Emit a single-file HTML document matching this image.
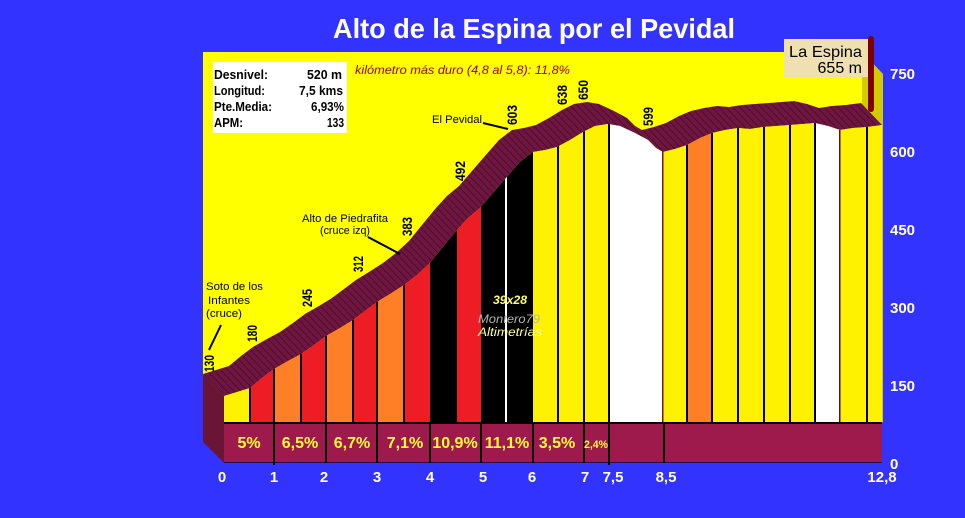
<!DOCTYPE html>
<html><head><meta charset="utf-8"><style>
html,body{margin:0;padding:0;background:#3333FF;}
svg{display:block;font-family:"Liberation Sans",sans-serif;}
</style></head><body>
<svg width="965" height="518" viewBox="0 0 965 518" xmlns="http://www.w3.org/2000/svg">
<defs>
<pattern id="h" patternUnits="userSpaceOnUse" width="7" height="40" patternTransform="skewX(43.67)">
<rect width="7" height="40" fill="#6E1641"/>
<rect width="1" height="40" fill="#400B23"/>
</pattern>
<clipPath id="cp">
<polygon points="224,396 237,392 250,388 262,378 274,369 288,361 301,354 314,345 326,336 340,328 353,320 365,311 377,302 390,294 404,285 417,275 430,263 443,247 457,230 468,218 480,208 493,193 506,178 520,162 533,152 545,150 557,147 570,140 583,132 595,126 608,124 620,126 635,133 648,140 656,148 663,152 675,149 687,145 700,138 712,133 725,130 738,128 750,129 763,127 776,126 790,125 803,124 815,123 828,126 840,130 853,128 867,127 882,125 882,423 224,423"/>
</clipPath>
</defs>
<rect width="965" height="518" fill="#3333FF"/>
<rect x="203" y="52" width="659" height="390" fill="#FFFF00"/>
<polygon points="862,52 883,74 883,423 862,401" fill="#D2CB00"/>
<polygon points="203,374 224,396 224,463 203,442" fill="#6A1535"/>
<polygon fill="url(#h)" points="203,374 216,370 229,366 241,356 253,347 267,339 280,332 293,323 305,314 319,306 332,298 344,289 356,280 369,272 383,263 396,253 409,241 422,225 436,208 447,196 459,186 472,171 485,156 499,140 512,130 524,128 536,125 549,118 562,110 574,104 587,102 599,104 614,111 627,118 635,126 642,130 654,127 666,123 679,116 691,111 704,108 717,106 729,107 742,105 755,104 769,103 782,102 794,101 807,104 819,108 832,106 846,105 861,103 882,125 867,127 853,128 840,130 828,126 815,123 803,124 790,125 776,126 763,127 750,129 738,128 725,130 712,133 700,138 687,145 675,149 663,152 656,148 648,140 635,133 620,126 608,124 595,126 583,132 570,140 557,147 545,150 533,152 520,162 506,178 493,193 480,208 468,218 457,230 443,247 430,263 417,275 404,285 390,294 377,302 365,311 353,320 340,328 326,336 314,345 301,354 288,361 274,369 262,378 250,388 237,392 224,396"/>
<g clip-path="url(#cp)">
<rect x="224" y="100" width="26" height="330" fill="#FFF200"/>
<rect x="250" y="100" width="24" height="330" fill="#EE1C25"/>
<rect x="274" y="100" width="27" height="330" fill="#FF7F27"/>
<rect x="301" y="100" width="25" height="330" fill="#EE1C25"/>
<rect x="326" y="100" width="27" height="330" fill="#FF7F27"/>
<rect x="353" y="100" width="24" height="330" fill="#EE1C25"/>
<rect x="377" y="100" width="27" height="330" fill="#FF7F27"/>
<rect x="404" y="100" width="26" height="330" fill="#EE1C25"/>
<rect x="430" y="100" width="27" height="330" fill="#000"/>
<rect x="457" y="100" width="24" height="330" fill="#EE1C25"/>
<rect x="481" y="100" width="52" height="330" fill="#000"/>
<rect x="533" y="100" width="76" height="330" fill="#FFF200"/>
<rect x="609" y="100" width="54" height="330" fill="#FFFFFF"/>
<rect x="663" y="100" width="24" height="330" fill="#FFF200"/>
<rect x="687" y="100" width="25" height="330" fill="#FF7F27"/>
<rect x="712" y="100" width="103" height="330" fill="#FFF200"/>
<rect x="815" y="100" width="25" height="330" fill="#FFFFFF"/>
<rect x="840" y="100" width="42" height="330" fill="#FFF200"/>
<g fill="#000">
<rect x="249" y="100" width="2" height="330"/>
<rect x="273" y="100" width="2" height="330"/>
<rect x="300" y="100" width="2" height="330"/>
<rect x="325" y="100" width="2" height="330"/>
<rect x="352" y="100" width="2" height="330"/>
<rect x="376" y="100" width="2" height="330"/>
<rect x="403" y="100" width="2" height="330"/>
<rect x="557" y="100" width="2" height="330"/>
<rect x="583" y="100" width="2" height="330"/>
<rect x="608" y="100" width="2" height="330"/>
<rect x="686" y="100" width="2" height="330"/>
<rect x="711" y="100" width="2" height="330"/>
<rect x="737" y="100" width="2" height="330"/>
<rect x="763" y="100" width="2" height="330"/>
<rect x="789" y="100" width="2" height="330"/>
<rect x="814" y="100" width="2" height="330"/>
<rect x="866" y="100" width="2" height="330"/>
</g>
<rect x="505" y="100" width="2" height="330" fill="#FFFFFF"/>
<rect x="662" y="100" width="1.5" height="330" fill="#7A1235"/>
<rect x="839" y="100" width="1.5" height="330" fill="#5A1028"/>
</g>
<rect x="224" y="423" width="658" height="40" fill="#9E1A4C"/>
<rect x="224" y="422" width="658" height="2" fill="#000"/>
<rect x="224" y="462" width="658" height="1" fill="#2A0A40"/>
<g fill="#000">
<rect x="273" y="423" width="2" height="42"/>
<rect x="325" y="423" width="2" height="40"/>
<rect x="376" y="423" width="2" height="40"/>
<rect x="429" y="423" width="2" height="40"/>
<rect x="480" y="423" width="2" height="40"/>
<rect x="532" y="423" width="2" height="40"/>
<rect x="583" y="423" width="2" height="40"/>
<rect x="608" y="423" width="2" height="42"/>
<rect x="663" y="423" width="2" height="40"/>
</g>
<g fill="#FFFF33" font-weight="bold" font-size="16" text-anchor="middle">
<text x="249" y="448">5%</text>
<text x="300" y="448">6,5%</text>
<text x="352" y="448">6,7%</text>
<text x="405" y="448">7,1%</text>
<text x="455" y="448">10,9%</text>
<text x="507" y="448">11,1%</text>
<text x="557" y="448">3,5%</text>
<text x="596" y="448" font-size="11" textLength="24" lengthAdjust="spacingAndGlyphs">2,4%</text>
</g>
<text x="333" y="38" font-size="28" font-weight="bold" fill="#FFFFFF" textLength="402" lengthAdjust="spacingAndGlyphs">Alto de la Espina por el Pevidal</text>
<rect x="213" y="62" width="134" height="71" fill="#FFFFFF"/>
<g font-size="13" font-weight="bold" fill="#000">
<text x="214" y="79" textLength="54" lengthAdjust="spacingAndGlyphs">Desnivel:</text>
<text x="214" y="95" textLength="51" lengthAdjust="spacingAndGlyphs">Longitud:</text>
<text x="214" y="111" textLength="58" lengthAdjust="spacingAndGlyphs">Pte.Media:</text>
<text x="214" y="127" textLength="29" lengthAdjust="spacingAndGlyphs">APM:</text>
<text x="307" y="79" textLength="35" lengthAdjust="spacingAndGlyphs">520 m</text>
<text x="299" y="95" textLength="44" lengthAdjust="spacingAndGlyphs">7,5 kms</text>
<text x="311" y="111" textLength="33" lengthAdjust="spacingAndGlyphs">6,93%</text>
<text x="327" y="127" textLength="17" lengthAdjust="spacingAndGlyphs">133</text>
</g>
<text x="355" y="74" font-size="12" font-style="italic" fill="#A00000" textLength="215" lengthAdjust="spacingAndGlyphs">kilómetro más duro (4,8 al 5,8):   11,8%</text>
<g font-size="14" font-weight="bold" fill="#000">
<text transform="translate(214,372) rotate(-90)" textLength="17" lengthAdjust="spacingAndGlyphs">130</text>
<text transform="translate(257,342) rotate(-90)" textLength="17" lengthAdjust="spacingAndGlyphs">180</text>
<text transform="translate(312,307) rotate(-90)" textLength="18" lengthAdjust="spacingAndGlyphs">245</text>
<text transform="translate(363,272) rotate(-90)" textLength="16" lengthAdjust="spacingAndGlyphs">312</text>
<text transform="translate(412,236) rotate(-90)" textLength="19" lengthAdjust="spacingAndGlyphs">383</text>
<text transform="translate(465,181) rotate(-90)" textLength="20" lengthAdjust="spacingAndGlyphs">492</text>
<text transform="translate(517,125) rotate(-90)" textLength="20" lengthAdjust="spacingAndGlyphs">603</text>
<text transform="translate(567,105) rotate(-90)" textLength="20" lengthAdjust="spacingAndGlyphs">638</text>
<text transform="translate(588,100) rotate(-90)" textLength="20" lengthAdjust="spacingAndGlyphs">650</text>
<text transform="translate(653,126) rotate(-90)" textLength="19" lengthAdjust="spacingAndGlyphs">599</text>
</g>
<g font-size="11" fill="#000">
<text x="206" y="290" textLength="57" lengthAdjust="spacingAndGlyphs">Soto de los</text>
<text x="208" y="304" textLength="42" lengthAdjust="spacingAndGlyphs">Infantes</text>
<text x="206" y="317" textLength="36" lengthAdjust="spacingAndGlyphs">(cruce)</text>
<text x="302" y="222" textLength="86" lengthAdjust="spacingAndGlyphs">Alto de Piedrafita</text>
<text x="320" y="234" textLength="50" lengthAdjust="spacingAndGlyphs">(cruce izq)</text>
<text x="432" y="123" textLength="50" lengthAdjust="spacingAndGlyphs">El Pevidal</text>
</g>
<g stroke="#000" stroke-width="2">
<line x1="221" y1="325" x2="209" y2="350"/>
<line x1="368" y1="237" x2="400" y2="254"/>
<line x1="483" y1="123" x2="508" y2="129"/>
</g>
<g font-style="italic" font-size="12">
<text x="493" y="304" fill="#FFFF66" font-weight="bold" textLength="34" lengthAdjust="spacingAndGlyphs">39x28</text>
<text x="478" y="323" fill="#B4B4B4" textLength="62" lengthAdjust="spacingAndGlyphs">Montero79</text>
<text x="478" y="336" fill="#FFFF99" textLength="64" lengthAdjust="spacingAndGlyphs">Altimetrías</text>
</g>
<rect x="784" y="39" width="84" height="38" fill="#EEE0B0"/>
<text x="789" y="57" font-size="16" fill="#000" textLength="73" lengthAdjust="spacingAndGlyphs">La Espina</text>
<text x="862" y="73" font-size="16" fill="#000" text-anchor="end">655 m</text>
<rect x="868" y="36" width="6" height="76" rx="3" fill="#7F0000"/>
<g font-size="15" font-weight="bold" fill="#FFFFFF">
<text x="890" y="79">750</text>
<text x="890" y="157">600</text>
<text x="890" y="235">450</text>
<text x="890" y="313">300</text>
<text x="890" y="391">150</text>
<text x="890" y="469">0</text>
</g>
<g font-size="15" font-weight="bold" fill="#FFFFFF" text-anchor="middle">
<text x="222" y="482">0</text>
<text x="274" y="482">1</text>
<text x="324" y="482">2</text>
<text x="377" y="482">3</text>
<text x="430" y="482">4</text>
<text x="483" y="482">5</text>
<text x="532" y="482">6</text>
<text x="585" y="482">7</text>
<text x="613" y="482">7,5</text>
<text x="666" y="482">8,5</text>
<text x="882" y="482">12,8</text>
</g>
</svg>
</body></html>
